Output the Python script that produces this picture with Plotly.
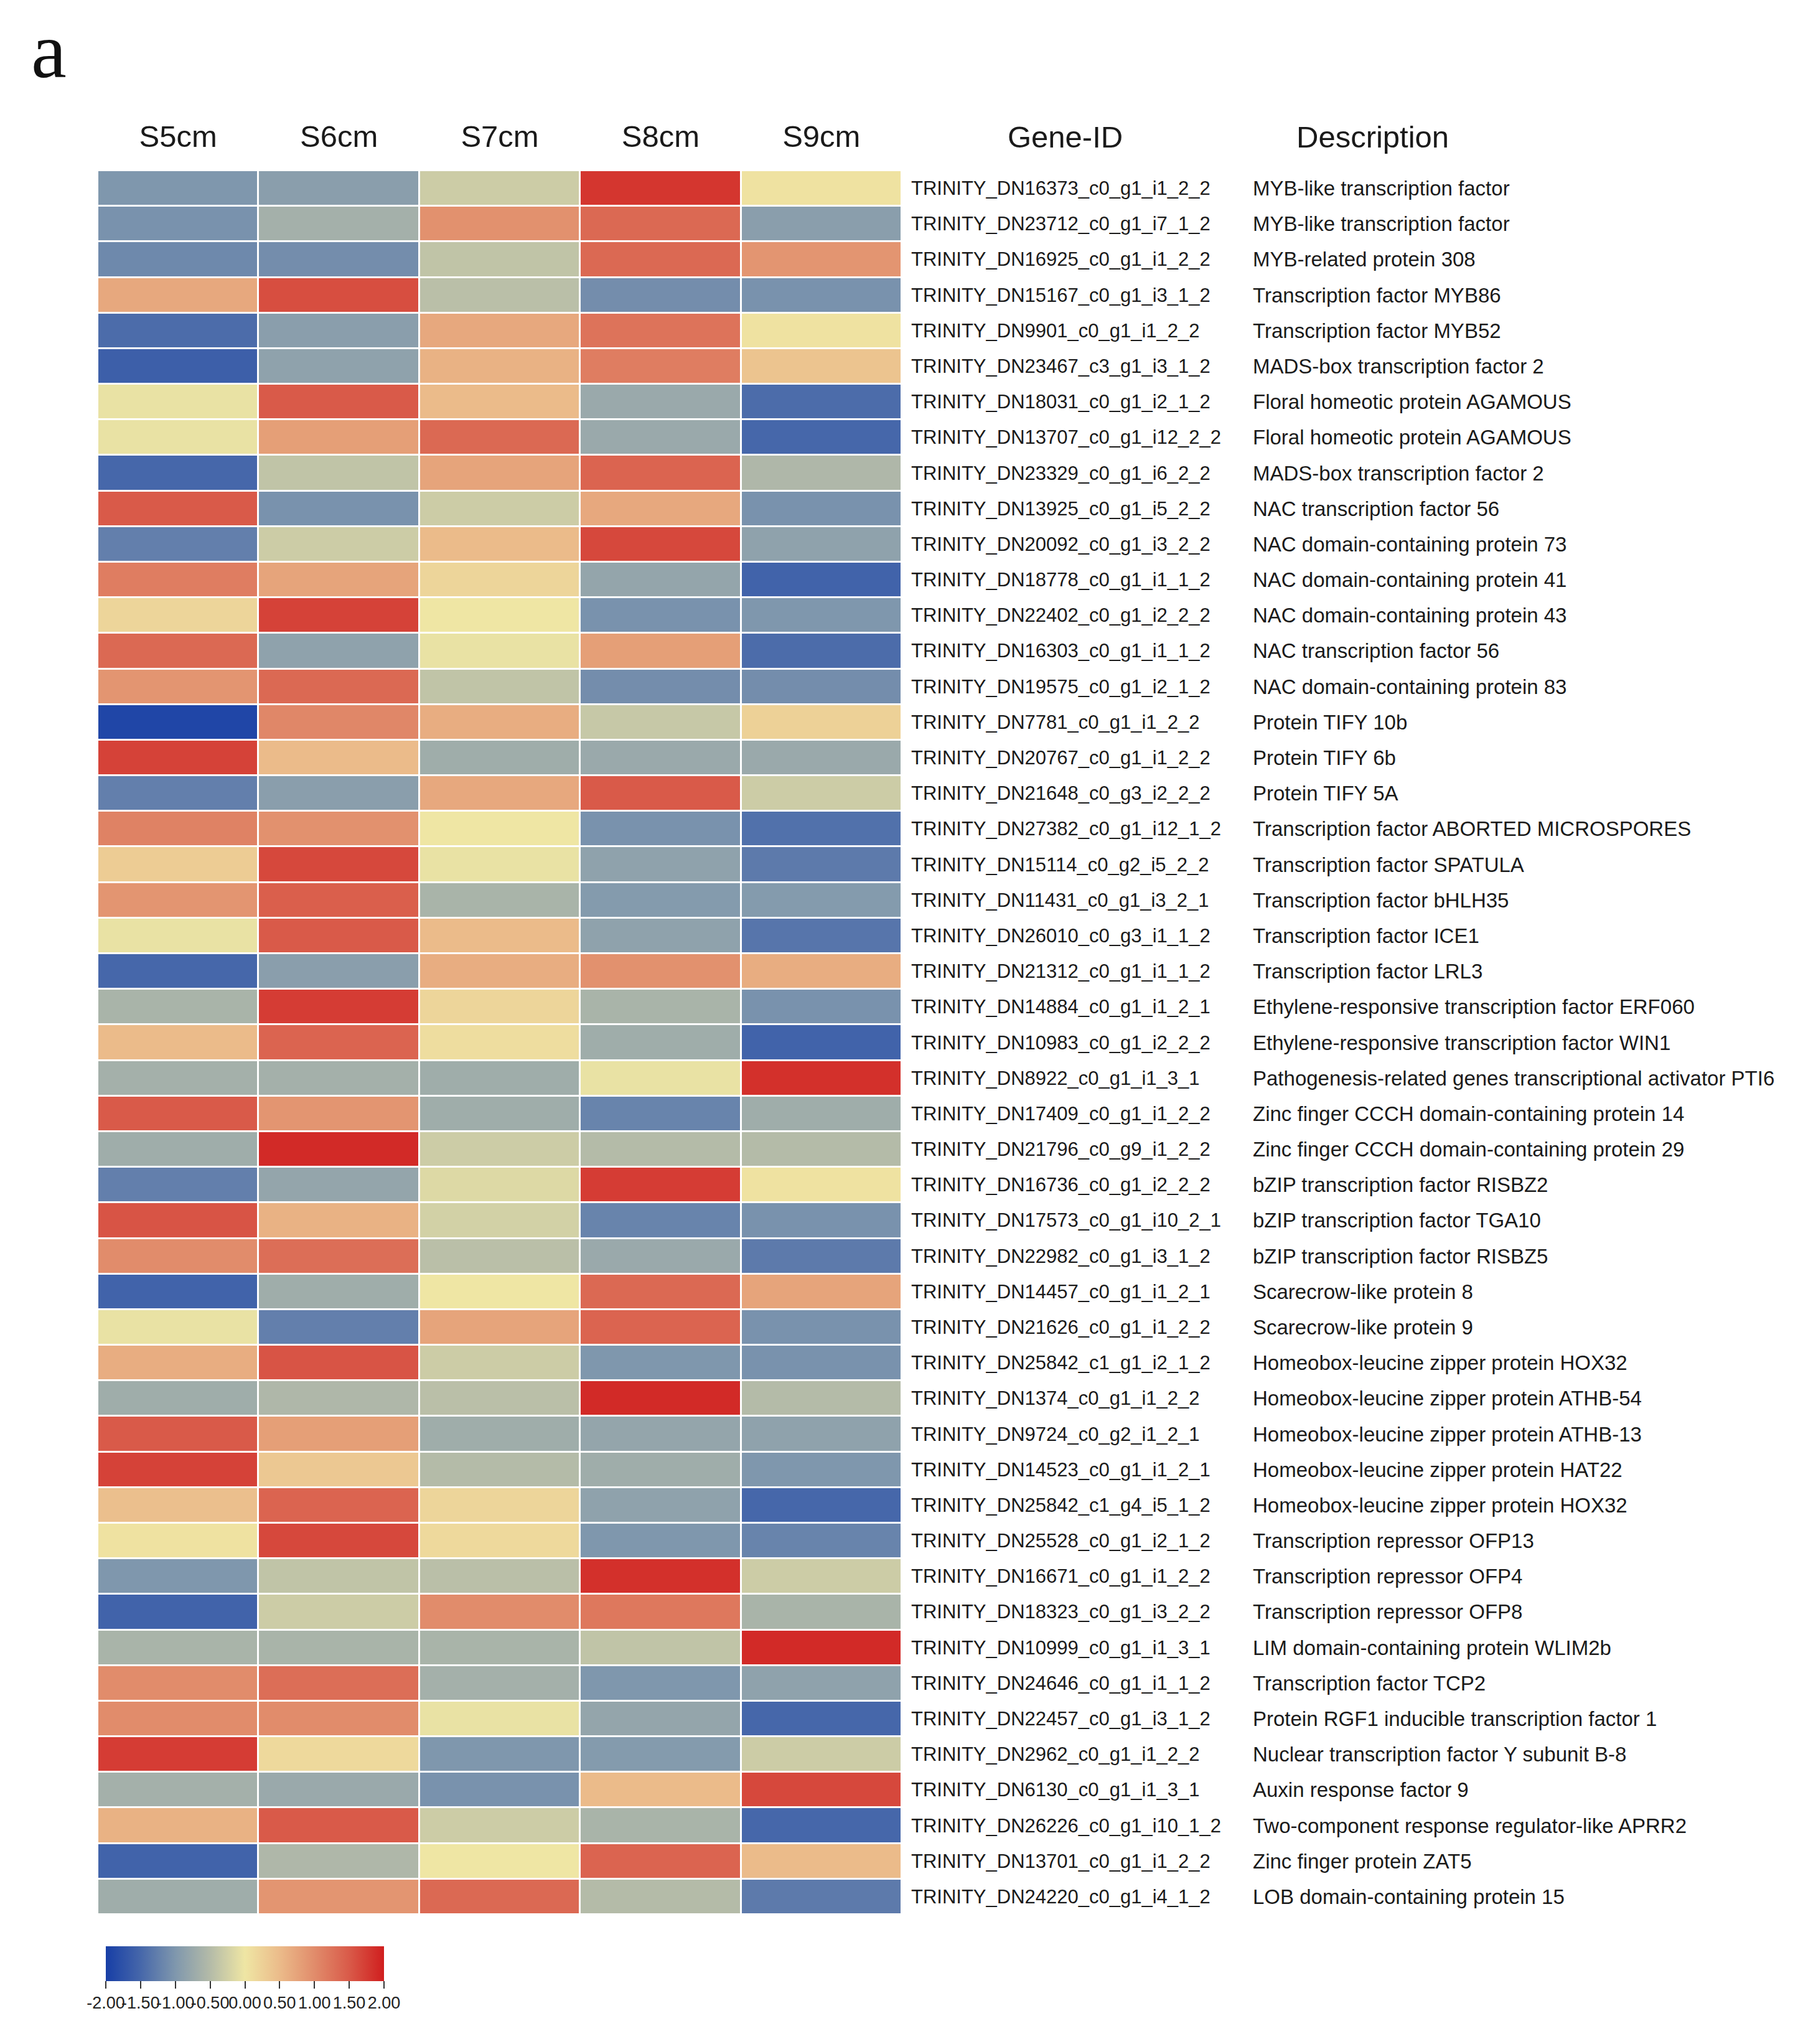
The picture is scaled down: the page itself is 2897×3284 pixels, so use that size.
import plotly.graph_objects as go

samples = ["S5cm", "S6cm", "S7cm", "S8cm", "S9cm"]

gene_ids = [
    "TRINITY_DN16373_c0_g1_i1_2_2", "TRINITY_DN23712_c0_g1_i7_1_2", "TRINITY_DN16925_c0_g1_i1_2_2",
    "TRINITY_DN15167_c0_g1_i3_1_2", "TRINITY_DN9901_c0_g1_i1_2_2", "TRINITY_DN23467_c3_g1_i3_1_2",
    "TRINITY_DN18031_c0_g1_i2_1_2", "TRINITY_DN13707_c0_g1_i12_2_2", "TRINITY_DN23329_c0_g1_i6_2_2",
    "TRINITY_DN13925_c0_g1_i5_2_2", "TRINITY_DN20092_c0_g1_i3_2_2", "TRINITY_DN18778_c0_g1_i1_1_2",
    "TRINITY_DN22402_c0_g1_i2_2_2", "TRINITY_DN16303_c0_g1_i1_1_2", "TRINITY_DN19575_c0_g1_i2_1_2",
    "TRINITY_DN7781_c0_g1_i1_2_2", "TRINITY_DN20767_c0_g1_i1_2_2", "TRINITY_DN21648_c0_g3_i2_2_2",
    "TRINITY_DN27382_c0_g1_i12_1_2", "TRINITY_DN15114_c0_g2_i5_2_2", "TRINITY_DN11431_c0_g1_i3_2_1",
    "TRINITY_DN26010_c0_g3_i1_1_2", "TRINITY_DN21312_c0_g1_i1_1_2", "TRINITY_DN14884_c0_g1_i1_2_1",
    "TRINITY_DN10983_c0_g1_i2_2_2", "TRINITY_DN8922_c0_g1_i1_3_1", "TRINITY_DN17409_c0_g1_i1_2_2",
    "TRINITY_DN21796_c0_g9_i1_2_2", "TRINITY_DN16736_c0_g1_i2_2_2", "TRINITY_DN17573_c0_g1_i10_2_1",
    "TRINITY_DN22982_c0_g1_i3_1_2", "TRINITY_DN14457_c0_g1_i1_2_1", "TRINITY_DN21626_c0_g1_i1_2_2",
    "TRINITY_DN25842_c1_g1_i2_1_2", "TRINITY_DN1374_c0_g1_i1_2_2", "TRINITY_DN9724_c0_g2_i1_2_1",
    "TRINITY_DN14523_c0_g1_i1_2_1", "TRINITY_DN25842_c1_g4_i5_1_2", "TRINITY_DN25528_c0_g1_i2_1_2",
    "TRINITY_DN16671_c0_g1_i1_2_2", "TRINITY_DN18323_c0_g1_i3_2_2", "TRINITY_DN10999_c0_g1_i1_3_1",
    "TRINITY_DN24646_c0_g1_i1_1_2", "TRINITY_DN22457_c0_g1_i3_1_2", "TRINITY_DN2962_c0_g1_i1_2_2",
    "TRINITY_DN6130_c0_g1_i1_3_1", "TRINITY_DN26226_c0_g1_i10_1_2", "TRINITY_DN13701_c0_g1_i1_2_2",
    "TRINITY_DN24220_c0_g1_i4_1_2",
]

descriptions = [
    "MYB-like transcription factor", "MYB-like transcription factor", "MYB-related protein 308",
    "Transcription factor MYB86", "Transcription factor MYB52", "MADS-box transcription factor 2",
    "Floral homeotic protein AGAMOUS", "Floral homeotic protein AGAMOUS", "MADS-box transcription factor 2",
    "NAC transcription factor 56", "NAC domain-containing protein 73", "NAC domain-containing protein 41",
    "NAC domain-containing protein 43", "NAC transcription factor 56", "NAC domain-containing protein 83",
    "Protein TIFY 10b", "Protein TIFY 6b", "Protein TIFY 5A",
    "Transcription factor ABORTED MICROSPORES", "Transcription factor SPATULA", "Transcription factor bHLH35",
    "Transcription factor ICE1", "Transcription factor LRL3", "Ethylene-responsive transcription factor ERF060",
    "Ethylene-responsive transcription factor WIN1", "Pathogenesis-related genes transcriptional activator PTI6",
    "Zinc finger CCCH domain-containing protein 14",
    "Zinc finger CCCH domain-containing protein 29", "bZIP transcription factor RISBZ2", "bZIP transcription factor TGA10",
    "bZIP transcription factor RISBZ5", "Scarecrow-like protein 8", "Scarecrow-like protein 9",
    "Homeobox-leucine zipper protein HOX32", "Homeobox-leucine zipper protein ATHB-54", "Homeobox-leucine zipper protein ATHB-13",
    "Homeobox-leucine zipper protein HAT22", "Homeobox-leucine zipper protein HOX32", "Transcription repressor OFP13",
    "Transcription repressor OFP4", "Transcription repressor OFP8", "LIM domain-containing protein WLIM2b",
    "Transcription factor TCP2", "Protein RGF1 inducible transcription factor 1", "Nuclear transcription factor Y subunit B-8",
    "Auxin response factor 9", "Two-component response regulator-like APRR2", "Zinc finger protein ZAT5",
    "LOB domain-containing protein 15",
]

# z-scores per gene (rows) for S5cm..S9cm (estimated from colours)
values = [
    [-1.00, -0.90, -0.30, 1.80, 0.05],
    [-1.05, -0.65, 0.95, 1.35, -0.90],
    [-1.15, -1.10, -0.40, 1.35, 0.90],
    [0.70, 1.60, -0.45, -1.10, -1.05],
    [-1.45, -0.90, 0.70, 1.25, 0.05],
    [-1.60, -0.85, 0.60, 1.15, 0.40],
    [-0.05, 1.50, 0.50, -0.75, -1.45],
    [-0.05, 0.80, 1.35, -0.75, -1.50],
    [-1.50, -0.40, 0.75, 1.40, -0.55],
    [1.50, -1.05, -0.30, 0.70, -1.05],
    [-1.25, -0.30, 0.50, 1.65, -0.85],
    [1.15, 0.75, 0.20, -0.80, -1.55],
    [0.20, 1.70, 0.00, -1.05, -1.00],
    [1.35, -0.85, -0.05, 0.80, -1.45],
    [0.90, 1.35, -0.40, -1.10, -1.10],
    [-1.90, 1.05, 0.65, -0.35, 0.25],
    [1.70, 0.50, -0.70, -0.75, -0.75],
    [-1.25, -0.90, 0.70, 1.50, -0.30],
    [1.10, 0.95, 0.00, -1.05, -1.40],
    [0.30, 1.65, -0.05, -0.85, -1.30],
    [0.90, 1.45, -0.60, -0.95, -0.95],
    [-0.05, 1.50, 0.50, -0.85, -1.35],
    [-1.50, -0.90, 0.65, 0.95, 0.65],
    [-0.60, 1.75, 0.20, -0.60, -1.05],
    [0.50, 1.40, 0.10, -0.70, -1.55],
    [-0.65, -0.65, -0.70, -0.05, 1.85],
    [1.50, 0.90, -0.70, -1.20, -0.70],
    [-0.70, 1.90, -0.30, -0.50, -0.50],
    [-1.25, -0.80, -0.15, 1.75, 0.05],
    [1.55, 0.60, -0.25, -1.20, -1.05],
    [1.00, 1.30, -0.45, -0.75, -1.30],
    [-1.55, -0.70, 0.00, 1.35, 0.75],
    [-0.05, -1.25, 0.75, 1.40, -1.05],
    [0.65, 1.55, -0.30, -1.00, -1.05],
    [-0.70, -0.55, -0.45, 1.90, -0.50],
    [1.50, 0.80, -0.70, -0.80, -0.85],
    [1.70, 0.35, -0.50, -0.70, -1.00],
    [0.45, 1.40, 0.20, -0.85, -1.50],
    [0.05, 1.65, 0.15, -1.00, -1.20],
    [-1.00, -0.40, -0.45, 1.85, -0.30],
    [-1.55, -0.30, 1.00, 1.20, -0.60],
    [-0.60, -0.60, -0.60, -0.40, 1.90],
    [1.00, 1.30, -0.65, -1.00, -0.85],
    [1.00, 1.00, -0.05, -0.80, -1.50],
    [1.75, 0.15, -1.00, -0.95, -0.30],
    [-0.65, -0.75, -1.05, 0.50, 1.65],
    [0.60, 1.50, -0.30, -0.60, -1.50],
    [-1.55, -0.55, 0.00, 1.40, 0.50],
    [-0.70, 0.90, 1.35, -0.50, -1.30],
]

cbar_ticks = [-2.0, -1.5, -1.0, -0.5, 0.0, 0.5, 1.0, 1.5, 2.0]
cbar_labels = ["-2.00", "-1.50", "-1.00", "-0.50", "0.00", "0.50", "1.00", "1.50", "2.00"]

colorscale = [
    [0.0, "#173ea6"],
    [0.125, "#4667aa"],
    [0.25, "#7f97ad"],
    [0.375, "#b4bba8"],
    [0.5, "#efe6a4"],
    [0.625, "#ebbb8a"],
    [0.75, "#e18c6b"],
    [0.875, "#d95a49"],
    [1.0, "#d01e1e"],
]

W, H = 2897, 3284
FONT = "Arial, Liberation Sans, sans-serif"

x0, x1 = 149 / W, 1441 / W
ytop, ybot = 1 - 266 / H, 1 - 3068 / H

fig = go.Figure()
fig.add_trace(go.Heatmap(
    z=values, x=samples, y=gene_ids,
    zmin=-2, zmax=2, colorscale=colorscale,
    xgap=3, ygap=3,
    colorbar=dict(
        orientation="h",
        x=(162 + 609) / 2 / W, xanchor="center",
        y=1 - 3119 / H, yanchor="top",
        len=447, lenmode="pixels",
        thickness=56, thicknessmode="pixels",
        xpad=0, ypad=0,
        outlinewidth=0,
        tickvals=cbar_ticks, ticktext=cbar_labels, tickangle=0,
        ticks="outside", ticklen=12, tickwidth=2, tickcolor="#333",
        tickfont=dict(family=FONT, size=27, color="#222"),
    ),
))

annotations = []
for gid, desc in zip(gene_ids, descriptions):
    annotations.append(dict(x=1454 / W, y=gid, xref="paper", yref="y", text=gid,
                            showarrow=False, xanchor="left", yanchor="middle",
                            font=dict(family=FONT, size=31, color="#1a1a1a")))
    annotations.append(dict(x=2003 / W, y=gid, xref="paper", yref="y", text=desc,
                            showarrow=False, xanchor="left", yanchor="middle",
                            font=dict(family=FONT, size=33, color="#1a1a1a")))

for txt, cx in [("Gene-ID", 1703), ("Description", 2197)]:
    annotations.append(dict(x=cx / W, y=1 - 212 / H, xref="paper", yref="paper", text=txt,
                            showarrow=False, xanchor="center", yanchor="middle",
                            font=dict(family=FONT, size=49, color="#1a1a1a")))

annotations.append(dict(x=40 / W, y=1.0, xref="paper", yref="paper", text="a",
                        showarrow=False, xanchor="left", yanchor="top",
                        font=dict(family="Liberation Serif, Times New Roman, serif", size=128, color="#111")))

fig.update_layout(
    width=W, height=H,
    margin=dict(l=0, r=0, t=0, b=0),
    paper_bgcolor="white", plot_bgcolor="white",
    xaxis=dict(domain=[x0, x1], side="top", showgrid=False, zeroline=False,
               showline=False, ticks="", ticklabelstandoff=27,
               tickfont=dict(family=FONT, size=49, color="#1a1a1a")),
    yaxis=dict(domain=[ybot, ytop], type="category", autorange="reversed",
               showticklabels=False, showgrid=False, zeroline=False, ticks=""),
    annotations=annotations,
)

fig.write_html("out.html")
